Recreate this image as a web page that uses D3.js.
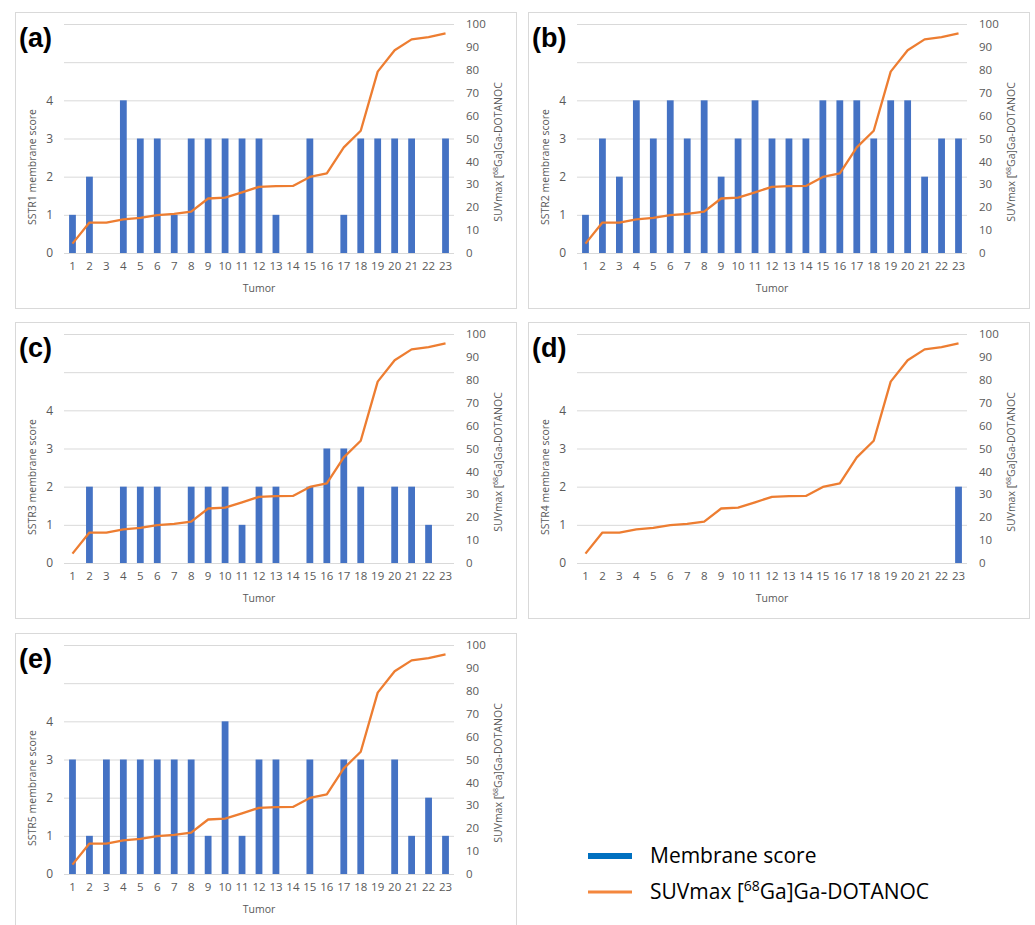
<!DOCTYPE html>
<html>
<head>
<meta charset="utf-8">
<script src="https://cdn.jsdelivr.net/npm/d3@7"></script>
<style>
  body { margin: 0; background: #fff; }
  svg { display: block; }
  .tick text { font-family: "Open Sans", sans-serif; }
</style>
</head>
<body>
<div id="chart"></div>
<script>
// tumor ids on the x axis
const tumors = d3.range(1, 24).map(String);

// SUVmax [68Ga]Ga-DOTANOC, same curve in every panel
const suvmax = [4.1, 13.3, 13.3, 14.7, 15.3, 16.5, 17.1, 18.1, 23.8, 24.2, 26.5, 28.9,
                29.2, 29.3, 33.2, 34.8, 46.1, 53.4, 79.2, 88.5, 93.3, 94.3, 95.9];

// membrane scores per receptor
const sstr1 = [1, 2, 0, 4, 3, 3, 1, 3, 3, 3, 3, 3, 1, 0, 3, 0, 1, 3, 3, 3, 3, 0, 3];
const sstr2 = [1, 3, 2, 4, 3, 4, 3, 4, 2, 3, 4, 3, 3, 3, 4, 4, 4, 3, 4, 4, 2, 3, 3];
const sstr3 = [0, 2, 0, 2, 2, 2, 0, 2, 2, 2, 1, 2, 2, 0, 2, 3, 3, 2, 0, 2, 2, 1, 0];
const sstr4 = [0, 0, 0, 0, 0, 0, 0, 0, 0, 0, 0, 0, 0, 0, 0, 0, 0, 0, 0, 0, 0, 0, 2];
const sstr5 = [3, 1, 3, 3, 3, 3, 3, 3, 1, 4, 1, 3, 3, 0, 3, 0, 3, 3, 0, 3, 1, 2, 1];

const leftTicks = [0, 1, 2, 3, 4];
const gridTicks = [0, 1, 2, 3, 4, 5, 6];
const rightTicks = d3.range(0, 101, 10);

const panels = [
    {label: "(a)", name: "SSTR1", scores: sstr1, x: 15, y: 12},
    {label: "(b)", name: "SSTR2", scores: sstr2, x: 528, y: 12},
    {label: "(c)", name: "SSTR3", scores: sstr3, x: 15, y: 322},
    {label: "(d)", name: "SSTR4", scores: sstr4, x: 528, y: 322},
    {label: "(e)", name: "SSTR5", scores: sstr5, x: 15, y: 633}
];

const W = 1035, H = 925;
const panelW = 501, panelH = 296;
const plot = {left: 49, right: 439, top: 12, bottom: 241};

const barColor = "#4472C4";
const lineColor = "#ED7D31";
const textGray = "#595959";

const svg = d3.select("#chart").append("svg")
    .attr("width", W)
    .attr("height", H);

// shared scales
const x = d3.scaleBand()
    .domain(tumors)
    .range([plot.left, plot.right])
    .padding(0);

const yLeft = d3.scaleLinear()
    .domain([0, 6])
    .range([plot.bottom, plot.top]);

const yRight = d3.scaleLinear()
    .domain([0, 100])
    .range([plot.bottom, plot.top]);

const barW = x.bandwidth() * 0.4;

panels.forEach(function(p) {
    let g = svg.append("g")
        .attr("transform", `translate(${p.x}, ${p.y})`);

    // frame
    g.append("rect")
        .attr("x", 0.5)
        .attr("y", 0.5)
        .attr("width", panelW)
        .attr("height", panelH)
        .attr("fill", "none")
        .attr("stroke", "#d9d9d9");

    // gridlines
    g.append("g")
        .attr("transform", `translate(${plot.left}, 0)`)
        .call(d3.axisLeft(yLeft).tickValues(gridTicks).tickSize(-(plot.right - plot.left)).tickFormat(""))
        .call(a => a.select(".domain").remove())
        .call(a => a.selectAll("line").attr("stroke", "#d9d9d9"));

    // left axis labels
    g.append("g")
        .attr("transform", `translate(${plot.left - 6}, 0)`)
        .call(d3.axisLeft(yLeft).tickValues(leftTicks).tickFormat(d3.format("d")).tickSize(0).tickPadding(5))
        .call(a => a.select(".domain").remove())
        .call(a => a.selectAll("text").attr("fill", textGray).style("font-size", "12px"));

    // right axis labels
    g.append("g")
        .attr("transform", `translate(${plot.right + 7}, 0)`)
        .call(d3.axisRight(yRight).tickValues(rightTicks).tickSize(0).tickPadding(5))
        .call(a => a.select(".domain").remove())
        .call(a => a.selectAll("text").attr("fill", textGray).style("font-size", "11.5px"));

    // x axis labels
    g.append("g")
        .attr("transform", `translate(0, ${plot.bottom + 5})`)
        .call(d3.axisBottom(x).tickSize(0).tickPadding(4))
        .call(a => a.select(".domain").remove())
        .call(a => a.selectAll("text").attr("fill", textGray).style("font-size", "11.5px"));

    // bars
    g.append("g")
        .selectAll("rect")
        .data(p.scores)
        .enter()
        .append("rect")
        .attr("x", (d, i) => x(tumors[i]) + (x.bandwidth() - barW) / 2)
        .attr("y", d => yLeft(d))
        .attr("width", barW)
        .attr("height", d => yLeft(0) - yLeft(d))
        .attr("fill", barColor);

    // SUVmax line
    let line = d3.line()
        .x((d, i) => x(tumors[i]) + x.bandwidth() / 2)
        .y(d => yRight(d));

    g.append("path")
        .datum(suvmax)
        .attr("d", line)
        .attr("fill", "none")
        .attr("stroke", lineColor)
        .attr("stroke-width", 2.3)
        .attr("stroke-linejoin", "round");

    // axis titles
    g.append("text")
        .text("Tumor")
        .attr("x", (plot.left + plot.right) / 2)
        .attr("y", 280)
        .attr("text-anchor", "middle")
        .attr("fill", textGray)
        .style("font-family", "Open Sans, sans-serif")
        .style("font-size", "10.5px");

    g.append("text")
        .text(p.name + " membrane score")
        .attr("transform", `translate(21, 155) rotate(-90)`)
        .attr("text-anchor", "middle")
        .attr("fill", textGray)
        .style("font-family", "Open Sans, sans-serif")
        .style("font-size", "10.5px");

    let rt = g.append("text")
        .attr("transform", `translate(487, 140) rotate(-90)`)
        .attr("text-anchor", "middle")
        .attr("fill", textGray)
        .style("font-family", "Open Sans, sans-serif")
        .style("font-size", "10.5px");
    rt.append("tspan").text("SUVmax [");
    rt.append("tspan").text("68").attr("dy", -4).style("font-size", "7px");
    rt.append("tspan").text("Ga]Ga-DOTANOC").attr("dy", 4);

    // panel letter
    g.append("text")
        .text(p.label)
        .attr("x", 4)
        .attr("y", 35)
        .attr("fill", "#000")
        .style("font-family", "Liberation Sans, Arial, sans-serif")
        .style("font-weight", "bold")
        .style("font-size", "27px");
});

// legend
const legendItems = [
    {name: "Membrane score", color: "#0070C0", width: 6},
    {name: "SUVmax", sup: "68", rest: "Ga]Ga-DOTANOC", color: "#F4873E", width: 3}
];

let legend = svg.append("g")
    .attr("class", "legend")
    .attr("transform", "translate(588, 856)");

legend.selectAll("line")
    .data(legendItems)
    .enter()
    .append("line")
    .attr("x1", 0)
    .attr("x2", 44)
    .attr("y1", (d, i) => i * 36)
    .attr("y2", (d, i) => i * 36)
    .attr("stroke", d => d.color)
    .attr("stroke-width", d => d.width);

legendItems.forEach(function(d, i) {
    let t = legend.append("text")
        .attr("x", 62)
        .attr("y", i * 36)
        .attr("dy", "0.35em")
        .attr("fill", "#000")
        .style("font-family", "Open Sans, sans-serif")
        .style("font-size", "21px");
    if (d.sup) {
        t.append("tspan").text(d.name + " [");
        t.append("tspan").text(d.sup).attr("dy", -8).style("font-size", "14px");
        t.append("tspan").text(d.rest).attr("dy", 8);
    } else {
        t.text(d.name);
    }
});
</script>
</body>
</html>
